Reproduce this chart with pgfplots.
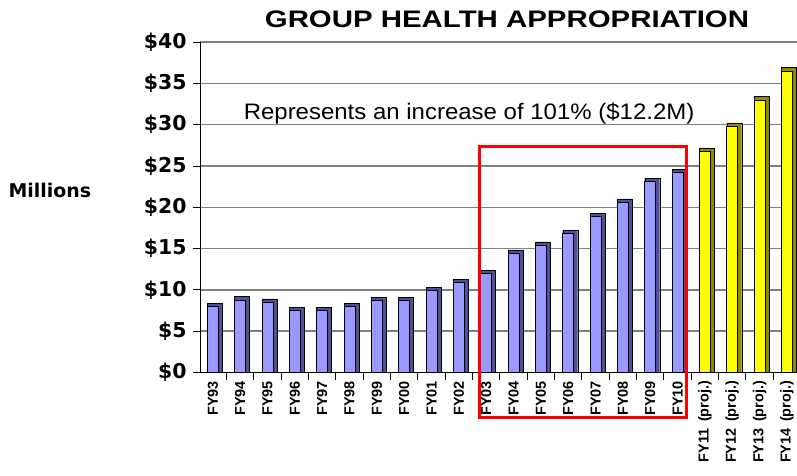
\documentclass[border=0pt]{standalone}
\usepackage{pgfplots}
\pgfplotsset{compat=1.18}
\usepackage{pgfplotstable}
\usepackage{fontspec}
\setmainfont{Liberation Sans}
\newfontfamily\dvs{DejaVu Sans}
\definecolor{bface}{RGB}{153,153,255}
\definecolor{bside}{RGB}{80,80,150}
\definecolor{yface}{RGB}{255,255,0}
\definecolor{yside}{RGB}{140,140,0}
\definecolor{gridg}{RGB}{128,128,128}
\pgfplotstableread{
i v
0 8.0
1 8.8
2 8.5
3 7.5
4 7.5
5 8.0
6 8.7
7 8.7
8 9.9
9 10.9
10 12.0
11 14.45
12 15.4
13 16.8
14 18.9
15 20.6
16 23.1
17 24.2
}\actual
\pgfplotstableread{
i v
18 26.8
19 29.8
20 33.0
21 36.5
}\proj
\begin{document}
\begin{tikzpicture}
\path[use as bounding box] (-200bp,-103.5bp) rectangle (597bp,372.5bp);
\begin{axis}[
  at={(0,0)}, anchor=south west,
  scale only axis, width=597bp, height=330.5bp,
  xmin=-0.47, xmax=21.37, ymin=0, ymax=40,
  axis y line*=left, axis x line*=bottom,
  axis line style={black, line width=0.8pt},
  ytick={0,5,...,40},
  yticklabels={\$0,\$5,\$10,\$15,\$20,\$25,\$30,\$35,\$40},
  yticklabel style={font=\dvs\bfseries\fontsize{20.5}{20.5}\selectfont, xshift=-3bp},
  ymajorgrids,
  grid style={gridg, line width=1.4pt},
  xtick={0,...,21},
  xticklabels={FY93,FY94,FY95,FY96,FY97,FY98,FY99,FY00,FY01,FY02,FY03,FY04,FY05,FY06,FY07,FY08,FY09,FY10,FY11\hspace{0.45em}(proj.),FY12\hspace{0.45em}(proj.),FY13\hspace{0.45em}(proj.),FY14\hspace{0.45em}(proj.)},
  xticklabel style={rotate=90, anchor=east, font=\bfseries\fontsize{14.5}{14.5}\selectfont, xshift=2bp},
  major x tick style={draw=none},
  minor xtick={-0.5,0.5,...,21.5},
  minor x tick style={draw=black, line width=0.8pt},
  tick align=outside,
  major tick length=7bp, minor tick length=7bp,
  ytick style={black, line width=0.8pt},
  clip=false,
]
\addplot[ybar, bar width=15bp, bar shift=2bp, fill=bside, draw=black, line width=0.4pt] table[x=i, y expr=\thisrow{v}+0.4] {\actual};
\addplot[ybar, bar width=11bp, bar shift=0bp, fill=bface, draw=black, line width=0.5pt] table[x=i, y=v] {\actual};
\addplot[ybar, bar width=15bp, bar shift=2bp, fill=yside, draw=black, line width=0.4pt] table[x=i, y expr=\thisrow{v}+0.4] {\proj};
\addplot[ybar, bar width=11bp, bar shift=0bp, fill=yface, draw=black, line width=0.5pt] table[x=i, y=v] {\proj};
\draw[red, line width=3bp] (axis cs:9.77,27.41) rectangle (axis cs:17.34,-5.5);
\node[anchor=base, font=\fontsize{22.5}{22.5}\selectfont, inner sep=0pt] at (axis cs:9.374,30.68) {\scalebox{1.07}[1]{Represents an increase of 101\% (\$12.2M)}};
\node[anchor=base, font=\bfseries\fontsize{24}{24}\selectfont, inner sep=0pt] at (axis cs:10.76,41.8) {\scalebox{1.23}[1]{GROUP HEALTH APPROPRIATION}};
\node[anchor=center, font=\dvs\bfseries\fontsize{19}{19}\selectfont, inner sep=0pt] at (axis cs:-5.96,22.09) {Millions};
\end{axis}
\end{tikzpicture}
\end{document}
